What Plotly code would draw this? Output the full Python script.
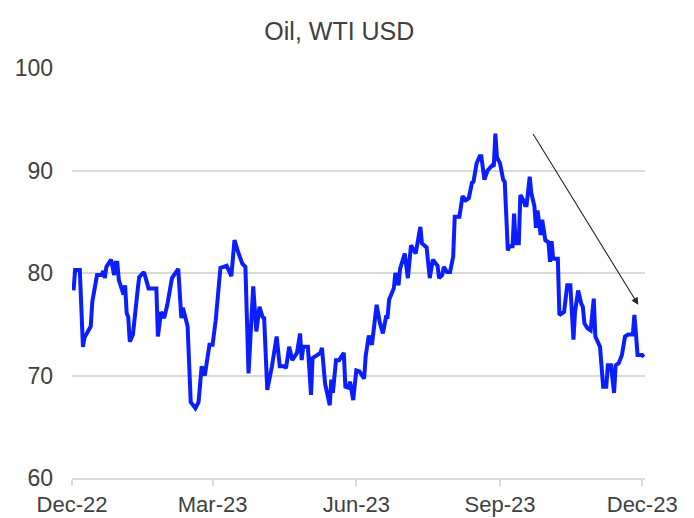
import pandas as pd
import plotly.graph_objects as go

# ---- data ----
start_date = "2022-12-01"
day_offset = [1, 2, 5, 7, 8, 12, 13, 16, 19, 20, 21, 22, 25, 27, 28, 29, 30, 32, 33, 34,
              35, 36, 37, 39, 41, 42, 43, 46, 47, 49, 54, 55, 57, 59, 61, 64, 68, 69, 70, 71,
              74, 76, 79, 81, 83, 85, 88, 90, 92, 95, 99, 102, 104, 106, 109, 111, 113, 116, 118, 120,
              122, 123, 125, 128, 131, 133, 136, 137, 139, 141, 144, 146, 147, 148, 151, 153, 154, 159, 160, 162,
              165, 166, 167, 169, 171, 174, 175, 177, 178, 180, 182, 184, 187, 188, 190, 192, 195, 197, 199, 201,
              202, 203, 206, 207, 209, 210, 213, 215, 217, 220, 223, 224, 227, 229, 231, 234, 235, 237, 238, 240,
              242, 244, 245, 248, 250, 252, 254, 256, 257, 259, 261, 262, 264, 266, 269, 270, 271, 272, 274, 276,
              277, 279, 280, 282, 283, 284, 286, 287, 289, 290, 291, 293, 294, 296, 297, 298, 300, 301, 303, 305,
              306, 307, 308, 311, 312, 315, 317, 319, 321, 322, 324, 326, 327, 328, 330, 332, 334, 335, 338, 340,
              342, 343, 345, 347, 348, 350, 352, 354, 356, 359, 360, 361, 362, 365, 366]
wti_usd = [78.3, 80.3, 80.3, 72.8, 73.7, 74.8, 77.2, 79.8, 79.8, 80.2, 79.5, 80.6, 81.3, 79.8, 81.0, 81.0, 79.3, 78.3, 77.9, 78.8,
           76.1, 75.7, 73.3, 74.0, 77.5, 78.3, 79.6, 80.1, 79.6, 78.5, 78.5, 73.8, 76.2, 75.6, 76.9, 79.5, 80.4, 77.4, 75.6, 76.6,
           74.8, 67.4, 66.8, 67.4, 70.9, 70.0, 73.0, 73.0, 75.4, 80.5, 80.7, 79.7, 83.2, 82.2, 80.9, 80.6, 70.2, 78.7, 74.3, 76.7,
           75.7, 75.6, 68.6, 70.9, 73.8, 70.9, 70.9, 70.7, 72.8, 71.5, 72.2, 74.1, 71.5, 72.8, 72.8, 68.1, 71.7, 72.2, 72.7, 69.2,
           67.1, 69.6, 68.3, 71.5, 71.5, 72.2, 68.9, 68.8, 69.4, 67.6, 70.5, 70.4, 69.7, 71.9, 73.9, 73.0, 76.9, 75.2, 74.1, 75.7,
           75.7, 77.4, 78.5, 80.0, 78.8, 80.4, 81.9, 79.5, 82.7, 81.9, 84.5, 82.9, 82.5, 79.5, 81.3, 80.7, 79.5, 79.8, 80.6, 80.1,
           80.1, 81.6, 85.5, 85.5, 87.5, 87.1, 87.3, 88.8, 88.9, 90.7, 91.4, 91.4, 89.1, 90.0, 90.5, 90.4, 93.6, 91.3, 90.7, 89.1,
           88.9, 82.2, 82.6, 82.6, 85.8, 82.9, 82.9, 87.6, 87.1, 86.6, 86.6, 89.4, 87.8, 86.5, 84.4, 86.1, 83.7, 85.2, 83.2, 83.0,
           81.1, 83.1, 81.4, 81.4, 75.9, 76.2, 78.8, 78.8, 73.5, 76.2, 78.3, 77.0, 76.7, 75.1, 74.6, 74.4, 77.5, 73.8, 72.8, 68.9,
           68.9, 71.0, 71.0, 68.3, 71.0, 71.2, 72.0, 73.8, 74.0, 74.0, 75.9, 74.1, 72.0, 72.0, 71.8]

tick_dates = ["2022-12-01", "2023-03-01", "2023-06-01", "2023-09-01", "2023-12-01"]
tick_labels = ["Dec-22", "Mar-23", "Jun-23", "Sep-23", "Dec-23"]
y_ticks = [60, 70, 80, 90, 100]

# trend arrow (start -> end), as dates and price levels
arrow_start = ("2023-09-21 14:00", 93.7)
arrow_end = ("2023-11-28 12:00", 76.9)

dates = pd.Timestamp(start_date) + pd.to_timedelta(day_offset, unit="D")

TEXT = "#404040"
GRID = "#d9d9d9"
FONT = "Liberation Sans, Arial, sans-serif"

fig = go.Figure()
fig.add_trace(go.Scatter(
    x=dates, y=wti_usd, mode="lines",
    line=dict(color="#0a1eff", width=4),
    hoverinfo="skip", showlegend=False,
))

fig.add_annotation(
    x=arrow_end[0], y=arrow_end[1], xref="x", yref="y",
    ax=arrow_start[0], ay=arrow_start[1], axref="x", ayref="y",
    showarrow=True, arrowhead=2, arrowsize=1.3, arrowwidth=1.1,
    arrowcolor="#262626", text="",
)

fig.update_layout(
    width=694, height=518,
    paper_bgcolor="white", plot_bgcolor="white",
    margin=dict(l=72, r=49, t=68, b=40, autoexpand=False),
    font=dict(family=FONT, color=TEXT, size=22),
    title=dict(text="Oil, WTI USD", x=0.489, xref="container", xanchor="center",
               y=0.94, yref="container", yanchor="middle",
               font=dict(family=FONT, size=25, color=TEXT)),
    xaxis=dict(
        type="date", automargin=False,
        range=["2022-12-01", "2023-12-02 19:00"],
        tickmode="array", tickvals=tick_dates, ticktext=tick_labels,
        showgrid=False, zeroline=False,
        showline=True, linecolor=GRID, linewidth=1.5,
        ticks="outside", ticklen=6, tickcolor=GRID, tickwidth=1.5,
        ticklabelstandoff=0,
        tickfont=dict(size=22, color=TEXT),
    ),
    yaxis=dict(
        range=[60, 100], tickmode="array", tickvals=y_ticks, automargin=False,
        showgrid=True, gridcolor=GRID, gridwidth=1.5,
        zeroline=False, showline=False, ticks="",
        ticklabelstandoff=18,
        tickfont=dict(size=23, color=TEXT),
    ),
)

fig.write_html("out.html", config={"displayModeBar": False},
               post_script="document.body.style.margin='0';")
